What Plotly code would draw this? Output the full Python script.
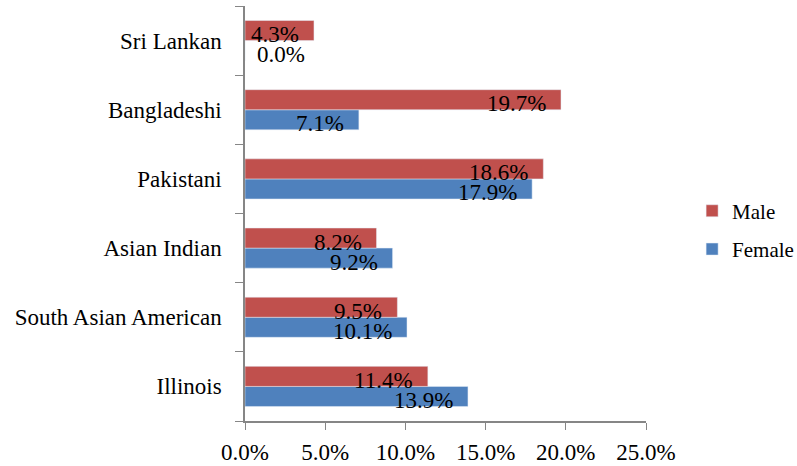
import plotly.graph_objects as go

# data (bottom to top, as drawn)
groups = ["Illinois", "South Asian American", "Asian Indian", "Pakistani", "Bangladeshi", "Sri Lankan"]
male = [11.4, 9.5, 8.2, 18.6, 19.7, 4.3]
female = [13.9, 10.1, 9.2, 17.9, 7.1, 0.0]

RED = "#C0504D"
BLUE = "#4F81BD"
AXIS = "#868686"
FONT = "Liberation Serif"

fig = go.Figure()

# Female first so it sits below Male inside each group
fig.add_trace(go.Bar(
    y=groups, x=female, name="Female", orientation="h",
    marker_color=BLUE, legendrank=2, legendgroup="f",
))
fig.add_trace(go.Bar(
    y=groups, x=male, name="Male", orientation="h",
    marker_color=RED, legendrank=1, legendgroup="m",
))

# value labels at the inside end of each bar
bar_gap = 0.42
half = (1 - bar_gap) / 4
for i, g in enumerate(groups):
    for val, off in ((male[i], half), (female[i], -half)):
        fig.add_annotation(
            x=val, y=i + off, xref="x", yref="y",
            text=f"{val:.1f}%", showarrow=False,
            xanchor="right" if val > 0 else "left",
            xshift=-13 if val > 0 else 10, yshift=-4,
            font=dict(family=FONT, size=23, color="black"),
        )

fig.update_layout(
    width=797, height=466,
    margin=dict(l=245, r=151, t=6, b=45, autoexpand=False),
    barmode="group", bargap=bar_gap, bargroupgap=0,
    plot_bgcolor="white", paper_bgcolor="white",
    font=dict(family=FONT, size=23, color="black"),
    legend=dict(
        x=1.115, y=0.46, xanchor="left", yanchor="middle",
        font=dict(family=FONT, size=21), tracegroupgap=8,
        bgcolor="rgba(0,0,0,0)",
    ),
)

fig.update_xaxes(
    range=[0, 25], dtick=5, tickformat=".1f", ticksuffix="%",
    showgrid=False, zeroline=False,
    showline=True, linecolor=AXIS, linewidth=1.5,
    ticks="outside", ticklen=7, tickcolor=AXIS, ticklabelstandoff=3,
)
fig.update_yaxes(
    categoryorder="array", categoryarray=groups,
    showgrid=False, zeroline=False,
    showline=True, linecolor=AXIS, linewidth=1.5,
    ticks="outside", ticklen=8, tickcolor=AXIS, tickson="boundaries",
    ticklabelstandoff=17,
)

fig.write_html(
    "out.html",
    config={"displayModeBar": False},
    post_script="document.body.style.margin='0px';",
)
